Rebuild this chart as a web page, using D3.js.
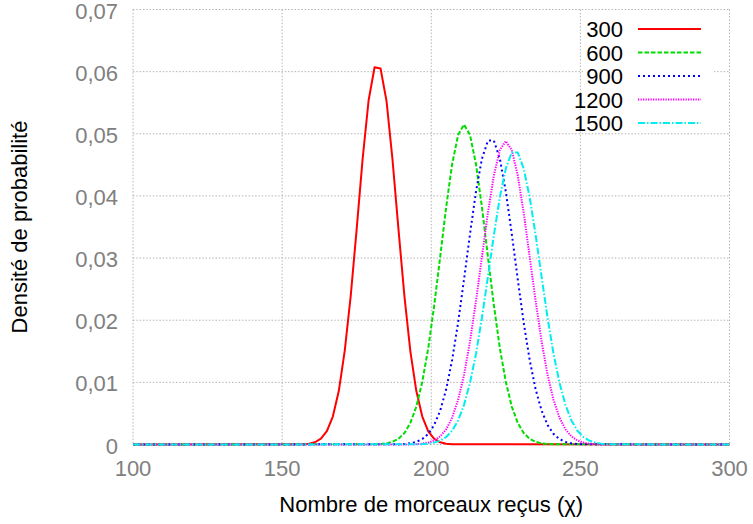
<!DOCTYPE html>
<html>
<head>
<meta charset="utf-8">
<script src="https://cdn.jsdelivr.net/npm/d3@7"></script>
<style>
  html, body { margin: 0; padding: 0; background: #fff; }
  svg { display: block; font-family: "Liberation Sans", Arial, Helvetica, sans-serif; }
</style>
</head>
<body>
<svg id="chart" width="753" height="524"></svg>
<script>
// ---- Data ----
const seriesLabels = ["300", "600", "900", "1200", "1500"];
const seriesColors = ["#ff0000", "#00dd00", "#0000ff", "#ff00ff", "#00eeee"];
const xStep = 2;
// first x value of each series (values follow every xStep units)
const seriesStart = [157, 181, 189, 193, 195];

const values300 = [0.00004, 0.00013, 0.00036, 0.00093, 0.00214, 0.0045, 0.0086, 0.0151, 0.0239, 0.0347,
  0.0460, 0.0554, 0.0607, 0.0605, 0.0553, 0.0459, 0.0347, 0.0239, 0.0150, 0.0086,
  0.0045, 0.0021, 0.0009, 0.00036, 0.00013, 0.00004];
const values600 = [0.00003, 0.00008, 0.00018, 0.00043, 0.00092, 0.00184, 0.00347, 0.0061, 0.0101, 0.0155,
  0.0224, 0.0302, 0.0382, 0.0451, 0.0498, 0.0515, 0.0498, 0.0451, 0.0382, 0.0302,
  0.0224, 0.0155, 0.0101, 0.0061, 0.00347, 0.00184, 0.00092, 0.00043, 0.00018, 0.00008, 0.00003];
const values900 = [0.00003, 0.00008, 0.00019, 0.00042, 0.00087, 0.00171, 0.00314, 0.00545, 0.00887, 0.0136,
  0.0196, 0.0266, 0.0339, 0.0407, 0.0460, 0.0489, 0.0489, 0.0460, 0.0407, 0.0339,
  0.0266, 0.0196, 0.0136, 0.00887, 0.00545, 0.00314, 0.00171, 0.00087, 0.00042, 0.00019, 0.00008, 0.00003];
const values1200 = [0.00002, 0.00006, 0.00014, 0.00031, 0.00065, 0.0013, 0.00244, 0.00431, 0.00717, 0.0112,
  0.0166, 0.0231, 0.0302, 0.0373, 0.0433, 0.0474, 0.0488, 0.0474, 0.0433, 0.0373,
  0.0302, 0.0231, 0.0166, 0.0112, 0.00717, 0.00431, 0.00244, 0.0013, 0.00065, 0.00031, 0.00014, 0.00006, 0.00002];
const values1500 = [0.00003, 0.00006, 0.00014, 0.00030, 0.00062, 0.00121, 0.00222, 0.00387, 0.00638, 0.00994,
  0.0146, 0.0204, 0.0270, 0.0337, 0.0398, 0.0444, 0.0470, 0.0470, 0.0444, 0.0398,
  0.0337, 0.0270, 0.0204, 0.0146, 0.00994, 0.00638, 0.00387, 0.00222, 0.00121, 0.00062,
  0.00030, 0.00014, 0.00006, 0.00003];
const seriesValues = [values300, values600, values900, values1200, values1500];

const xTicks = [100, 150, 200, 250, 300];
const xTickLabels = ["100", "150", "200", "250", "300"];
const yTicks = [0, 0.01, 0.02, 0.03, 0.04, 0.05, 0.06, 0.07];
const yTickLabels = ["0", "0,01", "0,02", "0,03", "0,04", "0,05", "0,06", "0,07"];
const xTitle = "Nombre de morceaux reçus (χ)";
const yTitle = "Densité de probabilité";

// ---- Layout ----
const svg = d3.select("#chart");
const pLeft = 133, pRight = 729.5, pTop = 9.5, pBottom = 444.5;
const x = d3.scaleLinear().domain([100, 300]).range([pLeft, pRight]);
const y = d3.scaleLinear().domain([0, 0.07]).range([pBottom, pTop]);

const gridColor = "#b4b4b4";
const gridDash = "1.5,1.8";
const tickColor = "#808080";
const fontSize = 22;

// grid (also serves as the frame)
const grid = svg.append("g");
grid.selectAll("line.gx").data(xTicks).join("line")
  .attr("x1", d => x(d)).attr("x2", d => x(d))
  .attr("y1", pTop).attr("y2", pBottom)
  .attr("stroke", gridColor).attr("stroke-width", 1).attr("stroke-dasharray", gridDash);
grid.selectAll("line.gy").data(yTicks).join("line")
  .attr("x1", pLeft).attr("x2", pRight)
  .attr("y1", d => y(d)).attr("y2", d => y(d))
  .attr("stroke", gridColor).attr("stroke-width", 1).attr("stroke-dasharray", gridDash);

// tick labels
svg.append("g").selectAll("text").data(xTicks).join("text")
  .attr("x", d => x(d)).attr("y", 476)
  .attr("text-anchor", "middle").attr("font-size", fontSize).attr("fill", tickColor)
  .text((d, i) => xTickLabels[i]);
svg.append("g").selectAll("text").data(yTicks).join("text")
  .attr("x", 118).attr("y", d => y(d) + 9)
  .attr("text-anchor", "end").attr("font-size", fontSize).attr("fill", tickColor)
  .text((d, i) => yTickLabels[i]);

// axis titles
svg.append("text").attr("x", (pLeft + pRight) / 2).attr("y", 512)
  .attr("text-anchor", "middle").attr("font-size", fontSize).attr("fill", "#000")
  .text(xTitle);
svg.append("text").attr("transform", `translate(27,${(pTop + pBottom) / 2}) rotate(-90)`)
  .attr("text-anchor", "middle").attr("font-size", fontSize).attr("fill", "#000")
  .text(yTitle);

// clip
svg.append("clipPath").attr("id", "plotclip").append("rect")
  .attr("x", pLeft).attr("y", pTop - 2).attr("width", pRight - pLeft + 1).attr("height", pBottom - pTop + 4);

const dashes = [null, "4.5,2", "2,3", "1.3,1.2", "7,2,1.5,2"];
const line = d3.line().x(d => x(d[0])).y(d => y(d[1]));

const plot = svg.append("g").attr("clip-path", "url(#plotclip)");
seriesValues.forEach((vals, s) => {
  const pts = [[100, 0]];
  vals.forEach((v, i) => pts.push([seriesStart[s] + i * xStep, v]));
  pts.push([300, 0]);
  plot.append("path").datum(pts)
    .attr("d", line)
    .attr("fill", "none")
    .attr("stroke", seriesColors[s])
    .attr("stroke-width", 2)
    .attr("stroke-linejoin", "round")
    .attr("stroke-dasharray", dashes[s]);
});

// legend (opaque background)
const legend = svg.append("g");
legend.append("rect").attr("x", 583).attr("y", 11).attr("width", 131).attr("height", 121.5).attr("fill", "#fff");
seriesLabels.forEach((lab, i) => {
  const base = 37 + i * 23.5;
  legend.append("text").attr("x", 623).attr("y", base)
    .attr("text-anchor", "end").attr("font-size", fontSize).attr("fill", "#000").text(lab);
  legend.append("line").attr("x1", 638).attr("x2", 701)
    .attr("y1", base - 8).attr("y2", base - 8)
    .attr("stroke", seriesColors[i]).attr("stroke-width", 2)
    .attr("stroke-dasharray", dashes[i]);
});
</script>
</body>
</html>
